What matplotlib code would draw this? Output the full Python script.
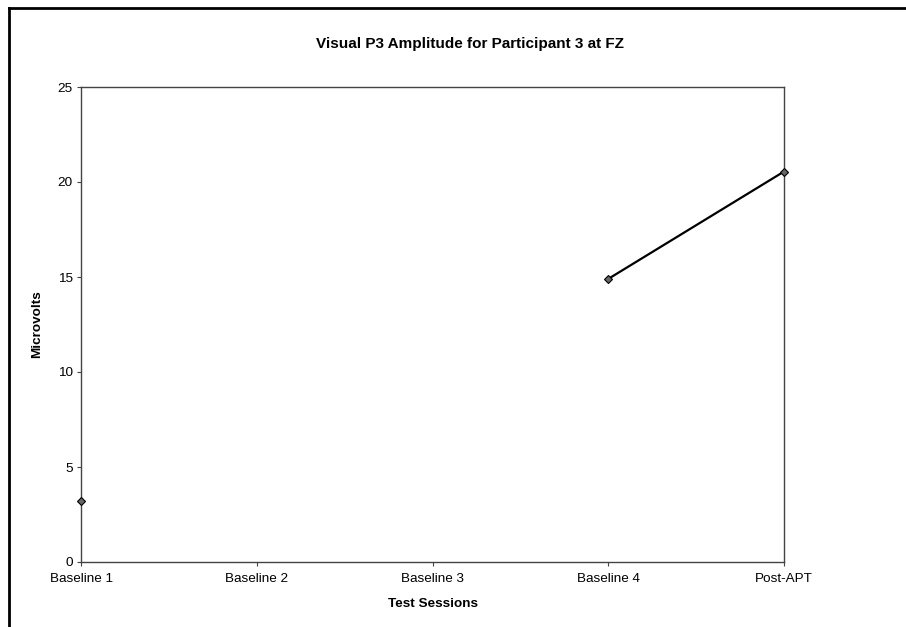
import matplotlib
matplotlib.use("Agg")
import matplotlib.pyplot as plt
from matplotlib.lines import Line2D
import numpy as np

# Data
sessions = ["Baseline 1", "Baseline 2", "Baseline 3", "Baseline 4", "Post-APT"]
amplitude = [3.2, np.nan, np.nan, 14.9, 20.55]
y_ticks = [0, 5, 10, 15, 20, 25]

plt.rcParams['font.family'] = ['Liberation Sans', 'DejaVu Sans']

fig = plt.figure(figsize=(9.06, 6.27), dpi=100)
ax = fig.add_axes([81 / 906, 65 / 627, 703 / 906, 475 / 627])

x = np.arange(len(sessions))
ax.plot(x, amplitude, color='black', linewidth=1.6, marker='D', markersize=4.5,
        markerfacecolor='#666666', markeredgecolor='black', markeredgewidth=0.8,
        clip_on=False, zorder=5)

ax.set_xlim(0, len(sessions) - 1)
ax.set_ylim(0, 25)
ax.set_xticks(x)
ax.set_xticklabels(sessions, fontsize=9.7)
ax.set_yticks(y_ticks)
ax.set_yticklabels([str(t) for t in y_ticks], fontsize=9.7)
ax.tick_params(axis='both', direction='out', length=3, width=0.8, color='#444444')
ax.tick_params(axis='x', pad=5)
ax.tick_params(axis='y', pad=3)

for side in ['left', 'right', 'top', 'bottom']:
    ax.spines[side].set_color('#444444')
    ax.spines[side].set_linewidth(1.0)

# Title is centred on the whole chart area, not on the plot area
ax.set_title("Visual P3 Amplitude for Participant 3 at FZ", fontsize=11,
             fontweight='bold', pad=28, x=(470 - 81) / 703)
ax.set_xlabel("Test Sessions", fontsize=9.7, fontweight='bold', labelpad=9)
ax.set_ylabel("Microvolts", fontsize=9.7, fontweight='bold', labelpad=10)

# Outer chart border (left and top visible in the scan)
fig.add_artist(Line2D([9 / 906, 9 / 906], [0, 1 - 8 / 627], color='black', linewidth=2))
fig.add_artist(Line2D([9 / 906, 1], [1 - 8 / 627, 1 - 8 / 627], color='black', linewidth=2))

fig.savefig("out.png", dpi=100)
